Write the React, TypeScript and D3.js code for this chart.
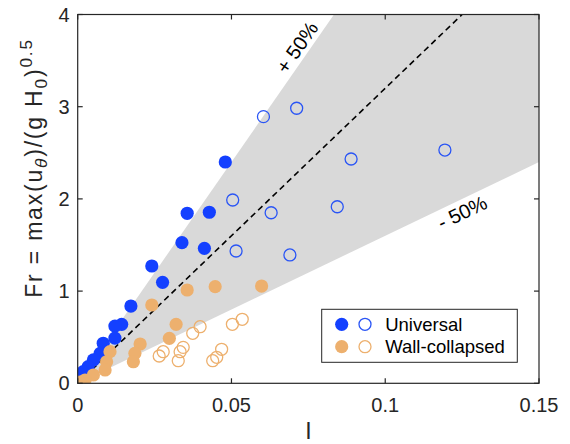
import React from "react";
import * as d3 from "d3";

// Froude number vs. I for the two regimes; filled and open markers are two sub-sets
const universalFilled: [number, number][] = [
  [0.048, 2.4], [0.0356, 1.844], [0.0428, 1.855], [0.0339, 1.525], [0.0412, 1.464],
  [0.0241, 1.272], [0.0276, 1.095], [0.0173, 0.838], [0.0143, 0.64], [0.0121, 0.621],
  [0.0121, 0.49], [0.0083, 0.434], [0.0073, 0.325], [0.0051, 0.253], [0.0034, 0.18],
  [0.0018, 0.126], [0.0013, 0.09],
];
const universalOpen: [number, number][] = [
  [0.0604, 2.892], [0.0712, 2.983], [0.0889, 2.433], [0.1194, 2.53], [0.0844, 1.915],
  [0.0629, 1.85], [0.0504, 1.988], [0.0515, 1.435], [0.069, 1.392],
];
const wallFilled: [number, number][] = [
  [0.0598, 1.055], [0.0447, 1.048], [0.0356, 1.012], [0.0241, 0.849], [0.032, 0.64],
  [0.0298, 0.488], [0.0203, 0.426], [0.0186, 0.325], [0.0181, 0.234], [0.0105, 0.343],
  [0.0094, 0.234], [0.0089, 0.144], [0.0051, 0.09], [0.0024, 0.036], [0.0007, 0.014],
];
const wallOpen: [number, number][] = [
  [0.0398, 0.614], [0.0374, 0.542], [0.0343, 0.39], [0.0333, 0.343], [0.0278, 0.343],
  [0.0265, 0.296], [0.0327, 0.245], [0.0503, 0.64], [0.0535, 0.694], [0.0468, 0.369],
  [0.0452, 0.282], [0.0439, 0.245],
];

const xTicks = [0, 0.05, 0.1, 0.15];
const xTickLabels = ["0", "0.05", "0.1", "0.15"];
const yTicks = [0, 1, 2, 3, 4];
const yTickLabels = ["0", "1", "2", "3", "4"];

// reference slope Fr = k I and the ±50% band around it
const slope = 32;
const bandFactors = [0.5, 1.5];

const legendEntries = ["Universal", "Wall-collapsed"];

const BLUE = "#1440ff";
const BLUE_OPEN = "#2a55f5";
const ORANGE = "#edb06e";
const AXIS = "#262626";
const FONT = "'Liberation Sans', Arial, Helvetica, sans-serif";

export default function App() {
  const W = 570;
  const H = 444;
  const left = 77.7, right = 539, top = 14.5, bottom = 383.3;
  const x = d3.scaleLinear().domain([0, 0.15]).range([left, right]);
  const y = d3.scaleLinear().domain([0, 4]).range([bottom, top]);
  const [xMin, xMax] = x.domain();
  const [yMin, yMax] = y.domain();

  const lo = bandFactors[0] * slope;
  const hi = bandFactors[1] * slope;
  const band: [number, number][] = [
    [0, 0],
    [yMax / hi, yMax],
    [xMax, yMax],
    [xMax, lo * xMax],
  ];
  const area = d3.line<[number, number]>().x((d) => x(d[0])).y((d) => y(d[1]));
  const r = 6.6;
  const tickLen = 5;

  const tickFont = 20;
  const labelFont = 23;

  // on-screen angle of a line Fr = k I
  const angleOf = (k: number) =>
    (-Math.atan((k * (bottom - top) / (yMax - yMin)) / ((right - left) / (xMax - xMin))) * 180) / Math.PI;

  const legX = 321.7, legY = 309.3, legW = 195.6, legH = 53;

  return (
    <svg width={W} height={H} style={{ position: "absolute", left: 0, top: 0, background: "#fff" }} fontFamily={FONT}>
      <rect x={0} y={0} width={W} height={H} fill="#fff" />
      <defs>
        <clipPath id="plotArea">
          <rect x={left} y={top} width={right - left} height={bottom - top} />
        </clipPath>
      </defs>
      <path d={area(band)! + "Z"} fill="#d9d9d9" clipPath="url(#plotArea)" />
      <line
        x1={x(0)} y1={y(0)} x2={x(yMax / slope)} y2={y(yMax)}
        stroke="#000" strokeWidth={1.6} strokeDasharray="6,4"
      />

      {/* band labels */}
      <text
        transform={`translate(${298.5},${48.5}) rotate(${angleOf(hi)})`}
        textAnchor="middle" dominantBaseline="middle" fontSize={20} fill="#000"
      >+ 50%</text>
      <text
        transform={`translate(${463},${214}) rotate(${angleOf(lo)})`}
        textAnchor="middle" dominantBaseline="middle" fontSize={20} fill="#000"
      >- 50%</text>

      {/* markers */}
      <g clipPath="url(#plotArea)">
        {universalFilled.map((d, i) => (
          <circle key={"uf" + i} cx={x(d[0])} cy={y(d[1])} r={r} fill={BLUE} />
        ))}
        {universalOpen.map((d, i) => (
          <circle key={"uo" + i} cx={x(d[0])} cy={y(d[1])} r={r - 0.6} fill="none" stroke={BLUE_OPEN} strokeWidth={1.3} />
        ))}
        {wallFilled.map((d, i) => (
          <circle key={"wf" + i} cx={x(d[0])} cy={y(d[1])} r={r} fill={ORANGE} />
        ))}
        {wallOpen.map((d, i) => (
          <circle key={"wo" + i} cx={x(d[0])} cy={y(d[1])} r={r - 0.6} fill="none" stroke={ORANGE} strokeWidth={1.3} />
        ))}
      </g>

      {/* axes box and ticks */}
      <rect x={left} y={top} width={right - left} height={bottom - top} fill="none" stroke={AXIS} strokeWidth={1.2} />
      {xTicks.map((t, i) => (
        <g key={"xt" + i}>
          <line x1={x(t)} x2={x(t)} y1={bottom} y2={bottom - tickLen} stroke={AXIS} strokeWidth={1.2} />
          <line x1={x(t)} x2={x(t)} y1={top} y2={top + tickLen} stroke={AXIS} strokeWidth={1.2} />
          <text x={x(t)} y={bottom + 29} textAnchor="middle" fontSize={tickFont} fill={AXIS}>{xTickLabels[i]}</text>
        </g>
      ))}
      {yTicks.map((t, i) => (
        <g key={"yt" + i}>
          <line x1={left} x2={left + tickLen} y1={y(t)} y2={y(t)} stroke={AXIS} strokeWidth={1.2} />
          <line x1={right} x2={right - tickLen} y1={y(t)} y2={y(t)} stroke={AXIS} strokeWidth={1.2} />
          <text x={left - 8} y={y(t) + 7} textAnchor="end" fontSize={tickFont} fill={AXIS}>{yTickLabels[i]}</text>
        </g>
      ))}

      {/* axis titles */}
      <text x={(left + right) / 2} y={439} textAnchor="middle" fontSize={labelFont} fill={AXIS}>I</text>
      <text transform={`translate(42,168) rotate(-90)`} textAnchor="middle" fontSize={labelFont} fill={AXIS} letterSpacing={1.8}>
        Fr = max(u
        <tspan fontSize={labelFont * 0.75} fontStyle="italic" dy={5}>θ</tspan>
        <tspan dy={-5}>)/(g H</tspan>
        <tspan fontSize={labelFont * 0.75} dy={5}>0</tspan>
        <tspan dy={-5}>)</tspan>
        <tspan fontSize={labelFont * 0.75} dy={-10}>0.5</tspan>
      </text>

      {/* legend */}
      <rect x={legX} y={legY} width={legW} height={legH} fill="#fff" stroke={AXIS} strokeWidth={1} />
      {legendEntries.map((name, i) => {
        const cy = legY + 15 + i * 22.4;
        const fill = i === 0 ? BLUE : ORANGE;
        const stroke = i === 0 ? BLUE_OPEN : ORANGE;
        return (
          <g key={name}>
            <circle cx={legX + 20} cy={cy} r={r} fill={fill} />
            <circle cx={legX + 43.3} cy={cy} r={r - 0.6} fill="none" stroke={stroke} strokeWidth={1.3} />
            <text x={legX + 63.5} y={cy + 6.5} fontSize={18.5} fill="#000">{name}</text>
          </g>
        );
      })}
    </svg>
  );
}
